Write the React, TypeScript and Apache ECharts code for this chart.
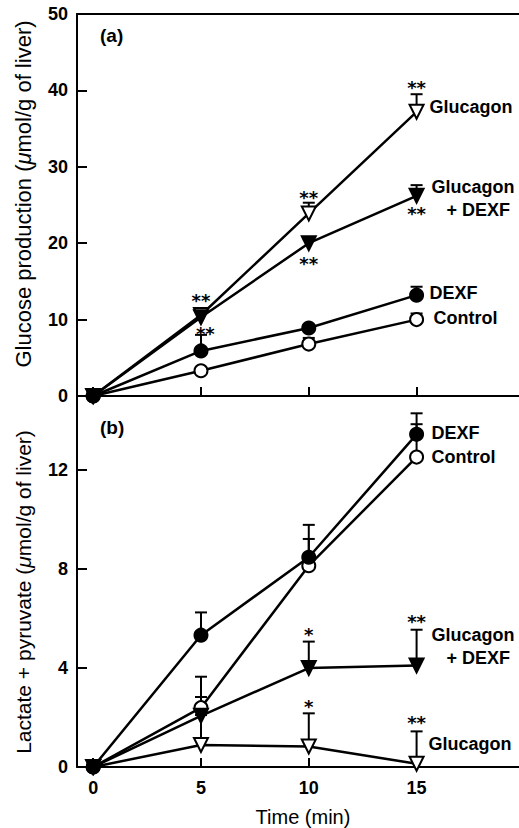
import React, { useEffect, useRef } from "react";
import * as echarts from "echarts";

const timePoints = [0, 5, 10, 15];
const xTickValues = [0, 5, 10, 15];
const glucoseTicks = [0, 10, 20, 30, 40, 50];
const lactateTicks = [0, 4, 8, 12];

// Panel (a): glucose production; *Err arrays hold the upper end of each error bar
const glucoseGlucagon = [0, 10.6, 23.9, 37.2];
const glucoseGlucagonErr = [0.7, 11.3, 25.3, 39.5];
const glucoseGlucDexf = [0, 10.3, 20.0, 26.2];
const glucoseGlucDexfErr = [0.7, 11.0, 20.5, 27.6];
const glucoseDexf = [0, 5.9, 8.9, 13.2];
const glucoseDexfErr = [0.7, 8.0, 9.3, 14.3];
const glucoseControl = [0, 3.3, 6.8, 10.0];
const glucoseControlErr = [0.7, 3.6, 7.6, 10.8];

// Panel (b): lactate + pyruvate
const lactDexf = [0, 5.33, 8.48, 13.45];
const lactDexfErr = [0.25, 6.25, 9.79, 14.3];
const lactControl = [0, 2.4, 8.14, 12.53];
const lactControlErr = [0.25, 3.65, 9.22, 13.86];
const lactGlucDexf = [0, 2.07, 4.0, 4.1];
const lactGlucDexfErr = [0.25, 2.83, 5.07, 5.55];
const lactGlucagon = [0, 0.89, 0.83, 0.13];
const lactGlucagonErr = [0.25, 2.1, 2.17, 1.44];

// significance marks
const glucoseStarX = [15, 10, 10, 15, 5, 5.2];
const glucoseStarY = [40.6, 26.3, 17.6, 24.1, 12.7, 8.4];
const glucoseStarText = ["**", "**", "**", "**", "**", "**"];
const lactateStarX = [10, 15, 10, 15];
const lactateStarY = [5.42, 5.98, 2.53, 1.88];
const lactateStarText = ["*", "**", "*", "**"];

const FONT = "'Liberation Sans', Arial, Helvetica, sans-serif";

function lineSeries(
  name: string,
  panel: number,
  values: number[],
  symbol: string,
  filled: boolean,
  labelText: string,
  labelOffset: number[]
) {
  const size = symbol === "circle" ? 13 : 14;
  return {
    type: "line",
    name,
    xAxisIndex: panel === 0 ? 0 : 2,
    yAxisIndex: panel,
    z: filled ? 4 : 3,
    silent: true,
    symbol,
    symbolSize: size,
    symbolRotate: symbol === "triangle" ? 180 : 0,
    showAllSymbol: true,
    clip: false,
    lineStyle: { color: "#000", width: 2.5 },
    itemStyle: {
      color: filled ? "#000" : "#fff",
      borderColor: "#000",
      borderWidth: 2,
      opacity: 1,
    },
    emphasis: { disabled: true },
    data: timePoints.map((t, i) =>
      i === timePoints.length - 1
        ? {
            value: [t, values[i]],
            label: {
              show: true,
              position: "right",
              distance: 0,
              offset: labelOffset,
              formatter: labelText,
              color: "#000",
              fontSize: 18,
              fontWeight: "bold",
              lineHeight: 23,
              align: "left",
              fontFamily: FONT,
            },
          }
        : [t, values[i]]
    ),
  };
}

function errSeries(panel: number, values: number[], tops: number[]) {
  return {
    type: "custom",
    xAxisIndex: panel === 0 ? 0 : 2,
    yAxisIndex: panel,
    z: 2,
    silent: true,
    clip: false,
    data: timePoints.map((t, i) => [t, values[i], tops[i]]),
    renderItem: (params: any, api: any) => {
      const p0 = api.coord([api.value(0), api.value(1)]);
      const p1 = api.coord([api.value(0), api.value(2)]);
      return {
        type: "group",
        children: [
          {
            type: "line",
            shape: { x1: p0[0], y1: p0[1], x2: p1[0], y2: p1[1] },
            style: { stroke: "#000", lineWidth: 2 },
          },
          {
            type: "line",
            shape: { x1: p1[0] - 6, y1: p1[1], x2: p1[0] + 6, y2: p1[1] },
            style: { stroke: "#000", lineWidth: 2 },
          },
        ],
      };
    },
  };
}

function starSeries(panel: number, xs: number[], ys: number[], texts: string[]) {
  return {
    type: "scatter",
    xAxisIndex: panel === 0 ? 0 : 2,
    yAxisIndex: panel,
    z: 5,
    silent: true,
    symbolSize: 2,
    itemStyle: { color: "rgba(255,255,255,0)" },
    data: xs.map((x, i) => ({ name: texts[i], value: [x, ys[i]] })),
    label: {
      show: true,
      position: "inside",
      formatter: "{b}",
      color: "#000",
      opacity: 1,
      textBorderWidth: 0,
      textBorderColor: "transparent",
      fontSize: 18,
      fontWeight: "bold",
      offset: [0, 2],
      fontFamily: "'DejaVu Sans', sans-serif",
    },
  };
}

export default function App() {
  const ref = useRef<HTMLDivElement>(null);
  useEffect(() => {
    if (!ref.current) return;
    const chart = echarts.init(ref.current, null, { renderer: "svg" });
    const tickLabel = { fontSize: 18, fontWeight: "bold", color: "#000", fontFamily: FONT };
    const axisLine = { show: true, onZero: false, lineStyle: { color: "#000", width: 2 } };
    const axisTick = (vals: number[], len: number) => ({
      show: true,
      inside: true,
      length: len,
      customValues: vals,
      lineStyle: { color: "#000", width: 2 },
    });
    const titleRich = (size: number) => ({
      n: { fontSize: size, fontFamily: FONT, fill: "#000", color: "#000" },
      i: { fontSize: size, fontFamily: FONT, fontStyle: "italic", fill: "#000", color: "#000" },
    });
    chart.setOption({
      animation: false,
      backgroundColor: "#fff",
      grid: [
        { left: 77, right: 0, top: 14, height: 382 },
        { left: 77, right: 0, top: 396, height: 380 },
      ],
      xAxis: [
        {
          type: "value",
          gridIndex: 0,
          min: -0.75,
          max: 19.75,
          axisLine,
          axisTick: axisTick(xTickValues, 9),
          axisLabel: { show: false, customValues: xTickValues },
          splitLine: { show: false },
        },
        {
          type: "value",
          gridIndex: 0,
          position: "top",
          min: -0.75,
          max: 19.75,
          axisLine,
          axisTick: { show: false },
          axisLabel: { show: false },
          splitLine: { show: false },
        },
        {
          type: "value",
          gridIndex: 1,
          min: -0.75,
          max: 19.75,
          axisLine,
          axisTick: axisTick(xTickValues, 9),
          axisLabel: { ...tickLabel, customValues: xTickValues, margin: 12 },
          splitLine: { show: false },
          name: "Time (min)",
          nameLocation: "middle",
          nameGap: 40,
          nameTextStyle: { fontSize: 20, color: "#000", fontFamily: FONT, padding: [0, 0, 0, 10] },
        },
      ],
      yAxis: [
        {
          type: "value",
          gridIndex: 0,
          min: 0,
          max: 50,
          interval: 10,
          axisLine,
          axisTick: axisTick(glucoseTicks, 10),
          axisLabel: { ...tickLabel, customValues: glucoseTicks, margin: 9 },
          splitLine: { show: false },
        },
        {
          type: "value",
          gridIndex: 1,
          min: 0,
          max: 15,
          axisLine,
          axisTick: axisTick(lactateTicks, 10),
          axisLabel: { ...tickLabel, customValues: lactateTicks, margin: 9 },
          splitLine: { show: false },
        },
      ],
      graphic: [
        {
          type: "text",
          x: 23,
          y: 194,
          rotation: Math.PI / 2,
          style: {
            text: "{n|Glucose production (}{i|μ}{n|mol/g of liver)}",
            rich: titleRich(22),
            fill: "#000",
            align: "center",
            verticalAlign: "middle",
            textAlign: "center",
            textVerticalAlign: "middle",
          },
        },
        {
          type: "text",
          x: 23,
          y: 592,
          rotation: Math.PI / 2,
          style: {
            text: "{n|Lactate + pyruvate (}{i|μ}{n|mol/g of liver)}",
            rich: titleRich(21),
            fill: "#000",
            align: "center",
            verticalAlign: "middle",
            textAlign: "center",
            textVerticalAlign: "middle",
          },
        },
        {
          type: "text",
          x: 100,
          y: 35,
          style: {
            text: "(a)",
            font: `bold 19px ${FONT}`,
            fill: "#000",
            verticalAlign: "middle",
            textVerticalAlign: "middle",
          },
        },
        {
          type: "text",
          x: 100,
          y: 427,
          style: {
            text: "(b)",
            font: `bold 19px ${FONT}`,
            fill: "#000",
            verticalAlign: "middle",
            textVerticalAlign: "middle",
          },
        },
      ],
      series: [
        errSeries(0, glucoseGlucagon, glucoseGlucagonErr),
        errSeries(0, glucoseGlucDexf, glucoseGlucDexfErr),
        errSeries(0, glucoseDexf, glucoseDexfErr),
        errSeries(0, glucoseControl, glucoseControlErr),
        errSeries(1, lactDexf, lactDexfErr),
        errSeries(1, lactControl, lactControlErr),
        errSeries(1, lactGlucDexf, lactGlucDexfErr),
        errSeries(1, lactGlucagon, lactGlucagonErr),
        lineSeries("Glucagon a", 0, glucoseGlucagon, "triangle", false, "Glucagon", [5, -4.7]),
        lineSeries("Control a", 0, glucoseControl, "circle", false, "Control", [9.5, -2]),
        lineSeries("Glucagon + DEXF a", 0, glucoseGlucDexf, "triangle", true, "Glucagon\n   + DEXF", [7, 3]),
        lineSeries("DEXF a", 0, glucoseDexf, "circle", true, "DEXF", [5.5, -2]),
        lineSeries("Glucagon b", 1, lactGlucagon, "triangle", false, "Glucagon", [4, -19.4]),
        lineSeries("Control b", 1, lactControl, "circle", false, "Control", [7.5, 0]),
        lineSeries("Glucagon + DEXF b", 1, lactGlucDexf, "triangle", true, "Glucagon\n   + DEXF", [7, -18.7]),
        lineSeries("DEXF b", 1, lactDexf, "circle", true, "DEXF", [7.5, -1]),
        starSeries(0, glucoseStarX, glucoseStarY, glucoseStarText),
        starSeries(1, lactateStarX, lactateStarY, lactateStarText),
      ],
    });
    return () => chart.dispose();
  }, []);
  return (
    <div
      ref={ref}
      style={{ position: "fixed", left: 0, top: 0, width: 519, height: 828, background: "#fff" }}
    />
  );
}
